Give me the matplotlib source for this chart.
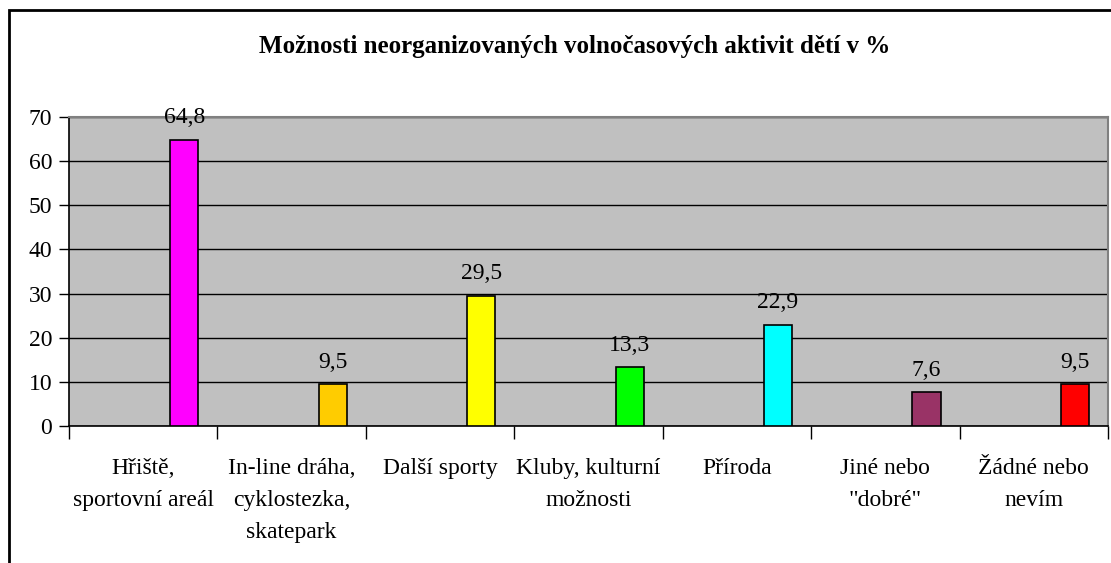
import numpy as np
import matplotlib
matplotlib.use("Agg")
import matplotlib.pyplot as plt
from matplotlib.patches import Rectangle

plt.rcParams['font.family'] = ['Liberation Serif', 'DejaVu Serif']

# Data
categories = ['Hřiště,\nsportovní areál', 'In-line dráha,\ncyklostezka,\nskatepark',
              'Další sporty', 'Kluby, kulturní\nmožnosti', 'Příroda',
              'Jiné nebo\n"dobré"', 'Žádné nebo\nnevím']
values = [64.8, 9.5, 29.5, 13.3, 22.9, 7.6, 9.5]
labels = ['64,8', '9,5', '29,5', '13,3', '22,9', '7,6', '9,5']
colors = ['#FF00FF', '#FFCC00', '#FFFF00', '#00FF00', '#00FFFF', '#993366', '#FF0000']
yticks = [0, 10, 20, 30, 40, 50, 60, 70]

fig = plt.figure(figsize=(11.11, 5.63), dpi=100)
W, H = 1111, 563
ax = fig.add_axes([69 / W, 1 - 426 / H, (1108 - 69) / W, (426 - 117) / H])
ax.set_facecolor('#C0C0C0')

n = len(values)
x = np.arange(n) + 0.5 + 0.277
ax.bar(x, values, width=0.19, color=colors, edgecolor='black', linewidth=1.2, zorder=3)
for xi, v, lab in zip(x, values, labels):
    ax.text(xi, v + 2.6, lab, ha='center', va='bottom', fontsize=17, zorder=4)

ax.set_xlim(0, n)
ax.set_ylim(0, 70)
ax.set_yticks(yticks)
ax.set_yticklabels([str(t) for t in yticks], fontsize=17)
ax.yaxis.grid(True, color='black', linewidth=1)
ax.set_axisbelow(True)
ax.tick_params(axis='y', length=7, width=1, direction='out', pad=5)

# category boundaries as ticks, labels at centers
ax.set_xticks(np.arange(n + 1))
ax.set_xticklabels([])
ax.set_xticks(np.arange(n) + 0.5, minor=True)
ax.set_xticklabels(categories, minor=True, fontsize=17, linespacing=1.68, va='top')
ax.tick_params(axis='x', which='major', length=9, width=1, direction='out')
ax.tick_params(axis='x', which='minor', length=0, pad=23)

for s in ['left', 'bottom']:
    ax.spines[s].set_color('black')
    ax.spines[s].set_linewidth(1.2)
for s in ['top', 'right']:
    ax.spines[s].set_color('#808080')
    ax.spines[s].set_linewidth(1.5)

fig.text(575 / W, 1 - 47 / H, 'Možnosti neorganizovaných volnočasových aktivit dětí v %',
         ha='center', va='center', fontsize=18, fontweight='bold')

# chart frame extending beyond the image
fig.patches.append(Rectangle((9 / W, -0.1), 1.2, 1 - 10 / H + 0.1, transform=fig.transFigure,
                             fill=False, edgecolor='black', linewidth=2))

fig.savefig('out.png', dpi=100)
